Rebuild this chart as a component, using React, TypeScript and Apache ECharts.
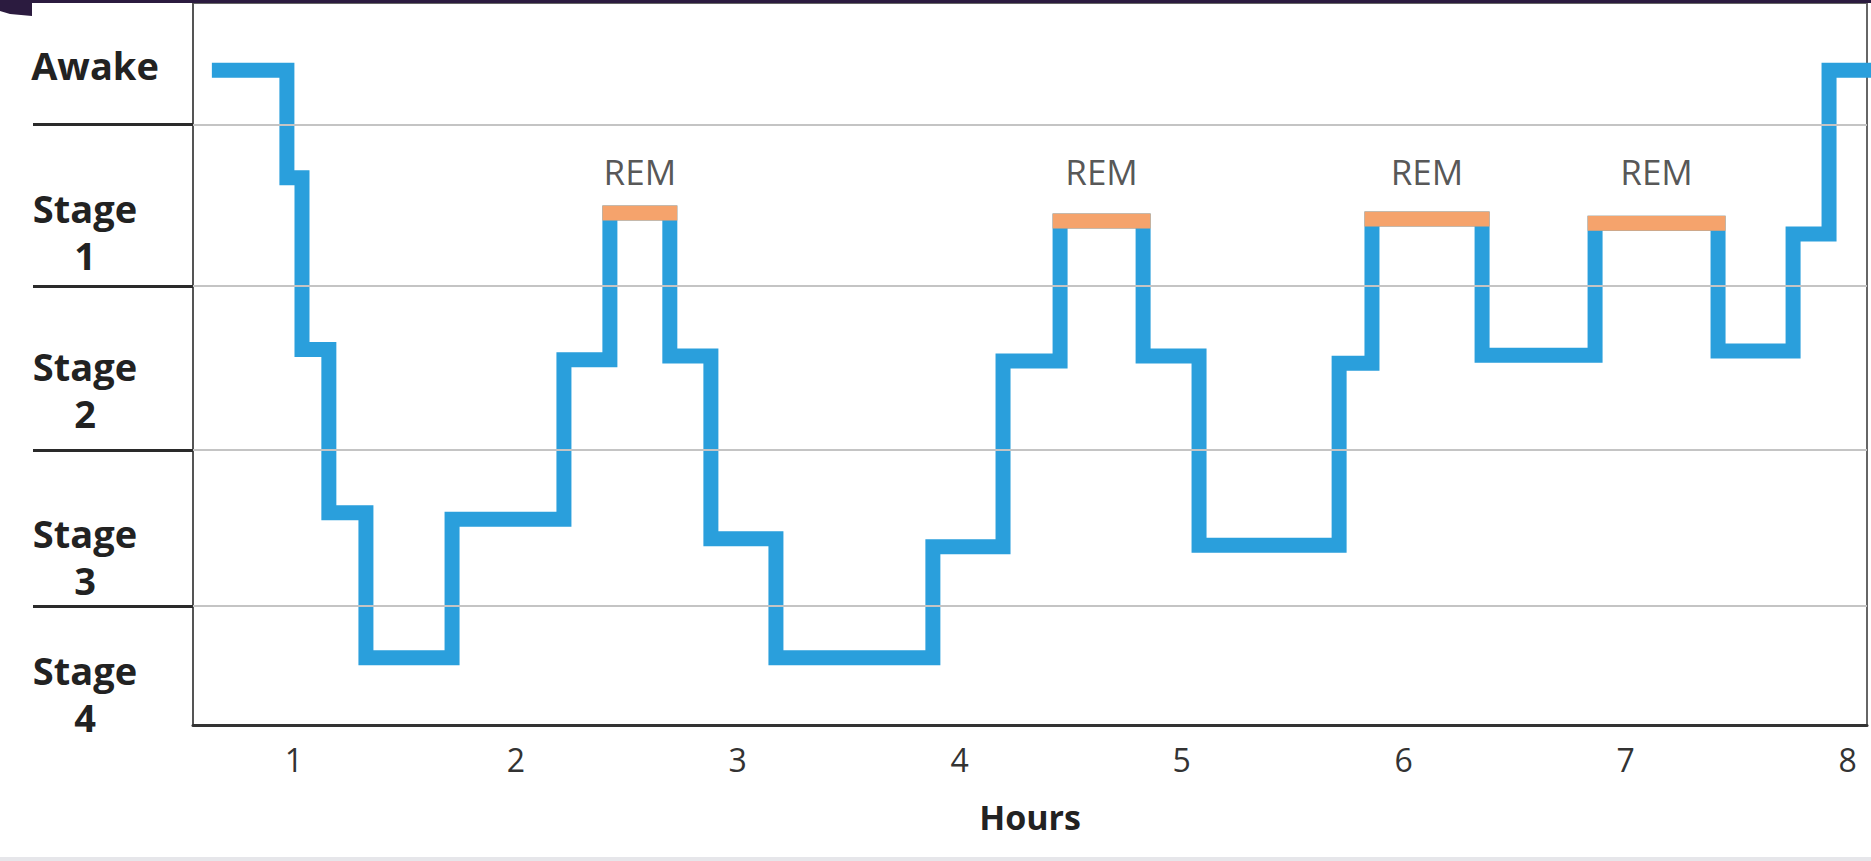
import React, { useEffect, useRef } from 'react';
import * as echarts from 'echarts';

// ---- data ----
const hourTicks = [1, 2, 3, 4, 5, 6, 7, 8];
const stageLabels = ['Awake', 'Stage\n1', 'Stage\n2', 'Stage\n3', 'Stage\n4'];
const stageLabelLevels = [91.4, 68.3, 46.5, 23.4, 4.4];
const bandBoundaries = [83.2, 60.8, 38.1, 16.5];

// one entry per constant stretch of the hypnogram
const segmentStage = [
  'Awake', 'Stage 1', 'Stage 2', 'Stage 3', 'Stage 4', 'Stage 3', 'Stage 2', 'REM',
  'Stage 2', 'Stage 3', 'Stage 4', 'Stage 3', 'Stage 2', 'REM', 'Stage 2', 'Stage 3',
  'Stage 2', 'REM', 'Stage 2', 'REM', 'Stage 2', 'Stage 1', 'Awake',
];
const segmentLevel = [
  90.7, 75.8, 52.0, 29.4, 9.3, 28.5, 50.6, 70.9,
  51.1, 25.8, 9.3, 24.7, 50.4, 69.8, 51.1, 24.9,
  50.1, 70.1, 51.2, 69.5, 51.8, 68.0, 90.7,
];
// hours at which each stretch starts (last value = end of the recording)
const segmentBounds = [
  0.631, 0.969, 1.037, 1.158, 1.325, 1.713, 2.217, 2.424, 2.694,
  2.879, 3.172, 3.879, 4.195, 4.452, 4.826, 5.078, 5.709, 5.857,
  6.353, 6.862, 7.416, 7.754, 7.916, 8.2,
];
const remLabelLevel = 76.6;

const FONT = "'Open Sans', 'Noto Sans', sans-serif";

function buildOption() {
  const blueData = segmentLevel.flatMap((lv, i) => [
    [segmentBounds[i], lv],
    [segmentBounds[i + 1], lv],
  ]);
  const remIdx = segmentStage.map((s, i) => (s === 'REM' ? i : -1)).filter((i) => i >= 0);

  const remSeries = remIdx.map((i) => ({
    type: 'line',
    data: [
      [segmentBounds[i], segmentLevel[i]],
      [segmentBounds[i + 1], segmentLevel[i]],
    ],
    symbol: 'none',
    silent: true,
    lineStyle: { color: '#f5a36c', width: 15, cap: 'square' },
    z: 4,
  }));

  const remLabels = {
    type: 'scatter',
    data: remIdx.map((i) => [(segmentBounds[i] + segmentBounds[i + 1]) / 2, remLabelLevel]),
    symbolSize: 2,
    silent: true,
    itemStyle: { color: 'transparent' },
    label: {
      show: true,
      position: 'inside',
      formatter: 'REM',
      fontSize: 35,
      color: '#2a2a2a',
      fontFamily: FONT,
    },
    z: 5,
  };

  const labelFor = (v: number) => {
    let best = 0;
    stageLabelLevels.forEach((l, i) => {
      if (Math.abs(l - v) < Math.abs(stageLabelLevels[best] - v)) best = i;
    });
    const t = stageLabels[best];
    return t === 'Awake' ? '{aw|Awake}' : t;
  };

  return {
    animation: false,
    backgroundColor: '#fff',
    grid: {
      left: 193,
      right: 4,
      top: 3,
      bottom: 136,
      show: true,
      borderColor: '#666',
      borderWidth: 2,
      backgroundColor: '#fff',
    },
    xAxis: {
      type: 'value',
      min: 0.546,
      max: 8.087,
      name: 'Hours',
      nameLocation: 'middle',
      nameGap: 75,
      nameTextStyle: { fontSize: 34, fontWeight: 'bold', color: '#222', fontFamily: FONT },
      axisLine: { show: true, onZero: false, lineStyle: { color: '#333', width: 3 } },
      axisTick: { show: false },
      splitLine: { show: false },
      axisLabel: {
        customValues: hourTicks,
        fontSize: 32,
        color: '#333',
        margin: 18,
        fontFamily: FONT,
      },
    },
    yAxis: {
      type: 'value',
      min: 0,
      max: 100,
      axisLine: { show: true, lineStyle: { color: '#555', width: 2 } },
      axisTick: {
        show: true,
        customValues: bandBoundaries,
        length: 160,
        lineStyle: { color: '#2a2a2a', width: 3 },
      },
      splitLine: { show: false },
      axisLabel: {
        customValues: stageLabelLevels,
        formatter: (v: number) => labelFor(v),
        align: 'center',
        margin: 108,
        fontSize: 38,
        fontWeight: 'bold',
        lineHeight: 47,
        color: '#222',
        fontFamily: FONT,
        rich: {
          aw: {
            fontSize: 38,
            fontWeight: 'bold',
            color: '#222',
            fontFamily: FONT,
            padding: [0, 0, 0, 20],
          },
        },
      },
    },
    series: [
      {
        type: 'line',
        data: [],
        z: 1,
        silent: true,
        markLine: {
          silent: true,
          symbol: ['none', 'none'],
          label: { show: false },
          lineStyle: { color: '#c4c4c4', width: 2, type: 'solid' },
          data: bandBoundaries.map((v) => ({ yAxis: v })),
        },
      },
      {
        type: 'line',
        data: blueData,
        symbol: 'none',
        silent: true,
        lineStyle: { color: '#2a9fdc', width: 15, cap: 'butt', join: 'miter' },
        z: 3,
      },
      ...remSeries,
      remLabels,
    ],
    graphic: [
      { type: 'rect', shape: { x: 0, y: 0, width: 1871, height: 3 }, style: { fill: '#2b1b3f' }, z: 10 },
      {
        type: 'polygon',
        shape: { points: [[0, 0], [32, 0], [32, 16], [10, 14], [0, 11]] },
        style: { fill: '#2b1b3f' },
        z: 10,
      },
      { type: 'rect', shape: { x: 0, y: 857, width: 1871, height: 4 }, style: { fill: '#e6e6ea' }, z: 10 },
    ],
  };
}

export default function App() {
  const ref = useRef<HTMLDivElement>(null);
  useEffect(() => {
    const chart = echarts.init(ref.current as HTMLDivElement, null, { renderer: 'svg' });
    chart.setOption(buildOption() as any);
    return () => chart.dispose();
  }, []);
  return (
    <div
      ref={ref}
      style={{ position: 'fixed', left: 0, top: 0, width: 1871, height: 861, background: '#fff' }}
    />
  );
}
